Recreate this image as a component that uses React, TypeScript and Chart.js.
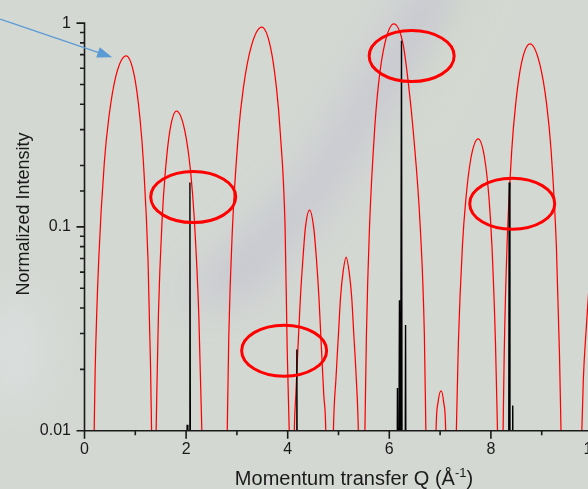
import React, { useEffect, useRef } from "react";
import { Chart, registerables } from "chart.js";

Chart.register(...registerables);

// Red interference curve: Q values and normalized intensity (null = gap between lobes)
const curveQ: number[] = [
  0.15, 0.19, 0.21, 0.28, 0.39, 0.48, 0.62, 0.82, 0.98, 1.09, 1.16, 1.25, 1.30, 1.32, 1.36, 1.365,
  1.37, 1.41, 1.455, 1.53, 1.59, 1.68, 1.81, 1.975, 2.09, 2.16, 2.25, 2.31, 2.35, 2.355,
  2.77, 2.81, 2.84, 2.91, 3.03, 3.126, 3.28, 3.49, 3.66, 3.78, 3.855, 3.95, 3.99, 4.03, 4.07, 4.075,
  4.10, 4.13, 4.16, 4.20, 4.25, 4.30, 4.35, 4.43, 4.51, 4.565, 4.615, 4.665, 4.71, 4.75, 4.78, 4.785,
  4.87, 4.90, 4.95, 5.00, 5.04, 5.09, 5.15, 5.21, 5.26, 5.30, 5.35, 5.39, 5.42, 5.425,
  5.48, 5.52, 5.55, 5.61, 5.71, 5.785, 5.91, 6.09, 6.27, 6.38, 6.47, 6.61, 6.69, 6.72, 6.76, 6.765,
  6.89, 6.92, 6.96, 7.02, 7.07, 7.11, 7.14, 7.145,
  7.28, 7.32, 7.36, 7.44, 7.505, 7.605, 7.75, 7.878, 7.966, 8.02, 8.09, 8.13, 8.16, 8.165,
  8.20, 8.24, 8.262, 8.316, 8.41, 8.485, 8.60, 8.77, 8.96, 9.10, 9.185, 9.29, 9.35, 9.38, 9.42, 9.425,
  9.75, 9.79, 9.82, 9.87, 9.95, 10.1,
];
const curveI: (number | null)[] = [
  0.003, 0.01, 0.0198, 0.069, 0.207, 0.345, 0.552, 0.69, 0.552, 0.345, 0.207, 0.069, 0.0207, 0.01, 0.003, null,
  0.003, 0.01, 0.037, 0.111, 0.185, 0.296, 0.37, 0.296, 0.185, 0.111, 0.037, 0.01, 0.003, null,
  0.003, 0.01, 0.0287, 0.0956, 0.287, 0.478, 0.765, 0.956, 0.765, 0.478, 0.287, 0.0956, 0.025, 0.01, 0.003, null,
  0.003, 0.01, 0.015, 0.025, 0.045, 0.07, 0.1, 0.121, 0.1, 0.07, 0.045, 0.025, 0.015, 0.01, 0.003, null,
  0.003, 0.01, 0.018, 0.03, 0.045, 0.06, 0.071, 0.06, 0.045, 0.03, 0.018, 0.01, 0.003, null,
  0.003, 0.01, 0.0297, 0.099, 0.297, 0.495, 0.79, 0.99, 0.79, 0.495, 0.297, 0.099, 0.0297, 0.01, 0.003, null,
  0.003, 0.01, 0.0138, 0.0157, 0.0138, 0.01, 0.003, null,
  0.003, 0.01, 0.027, 0.081, 0.135, 0.216, 0.27, 0.216, 0.135, 0.081, 0.027, 0.01, 0.003, null,
  0.003, 0.01, 0.0237, 0.079, 0.237, 0.395, 0.632, 0.79, 0.632, 0.395, 0.237, 0.079, 0.0237, 0.01, 0.003, null,
  0.003, 0.01, 0.018, 0.03, 0.06, 0.2,
];

// Black Bragg peaks: positions and heights
const peakQ: number[] = [2.02, 2.075, 4.18, 6.16, 6.20, 6.24, 6.32, 8.36, 8.43];
const peakI: number[] = [0.0107, 0.165, 0.025, 0.0162, 0.0437, 0.82, 0.033, 0.165, 0.0133];

// Axis ticks
const xTickLabels: string[] = ["0", "2", "4", "6", "8", "10"];
const yTickLabels: string[] = ["0.01", "0.1", "1"];

// Annotation marks (data coordinates)
const circleQ: number[] = [2.14, 3.93, 6.44, 8.42];
const circleI: number[] = [0.14, 0.0247, 0.689, 0.13];
const arrowQ: number[] = [-1.66, 0.545];
const arrowI: number[] = [1.046, 0.68];

const FONT = "'Liberation Sans', Arial, sans-serif";
const INK = "#1a1a1a";

const isPow10 = (v: number) => {
  const l = Math.log10(v);
  return Math.abs(l - Math.round(l)) < 1e-6;
};

const CANVAS_W = 620;
const CANVAS_H = 489;

const backgroundPlugin = {
  id: "photoBackground",
  beforeDraw(chart: any) {
    const ctx = chart.ctx as CanvasRenderingContext2D;
    ctx.save();
    ctx.fillStyle = "#d4d8d3";
    ctx.fillRect(0, 0, chart.width, chart.height);
    ctx.filter = "blur(20px)";
    // lavender diagonal streak
    ctx.fillStyle = "rgba(175,165,205,0.32)";
    ctx.beginPath();
    ctx.moveTo(420, -20);
    ctx.lineTo(470, -20);
    ctx.lineTo(330, 200);
    ctx.lineTo(250, 300);
    ctx.lineTo(180, 300);
    ctx.lineTo(300, 180);
    ctx.closePath();
    ctx.fill();
    // faint green/yellow fringe
    ctx.fillStyle = "rgba(215,230,190,0.35)";
    ctx.beginPath();
    ctx.moveTo(475, -20);
    ctx.lineTo(500, -20);
    ctx.lineTo(430, 140);
    ctx.lineTo(410, 140);
    ctx.closePath();
    ctx.fill();
    // lighter lower-left patch
    ctx.fillStyle = "rgba(226,230,234,0.45)";
    ctx.beginPath();
    ctx.ellipse(15, 350, 30, 60, 0, 0, Math.PI * 2);
    ctx.fill();
    ctx.restore();
  },
};

const axesPlugin = {
  id: "axesTicks",
  afterDatasetsDraw(chart: any) {
    const ctx = chart.ctx as CanvasRenderingContext2D;
    const { left, right, top, bottom } = chart.chartArea;
    const xs = chart.scales.x;
    const ys = chart.scales.y;
    ctx.save();
    ctx.strokeStyle = INK;
    ctx.lineWidth = 1.6;
    ctx.beginPath();
    ctx.moveTo(left, top - 0.8);
    ctx.lineTo(left, bottom + 0.8);
    ctx.moveTo(left - 0.8, bottom);
    ctx.lineTo(right, bottom);
    for (const t of ys.ticks) {
      const py = ys.getPixelForValue(t.value);
      const len = isPow10(t.value) ? 8 : 4.5;
      ctx.moveTo(left - len, py);
      ctx.lineTo(left, py);
    }
    for (const t of xs.ticks) {
      const px = xs.getPixelForValue(t.value);
      const len = Math.round(t.value) % 2 === 0 ? 8 : 4.5;
      ctx.moveTo(px, bottom);
      ctx.lineTo(px, bottom + len);
    }
    ctx.stroke();

    // axis titles
    ctx.fillStyle = INK;
    ctx.textBaseline = "alphabetic";
    ctx.font = `20px ${FONT}`;
    const main = "Momentum transfer Q (Å";
    const sup = "-1";
    const close = ")";
    const wMain = ctx.measureText(main).width;
    ctx.font = `13px ${FONT}`;
    const wSup = ctx.measureText(sup).width;
    ctx.font = `20px ${FONT}`;
    const wClose = ctx.measureText(close).width;
    const total = wMain + wSup + wClose;
    const cx = 354;
    const x0 = cx - total / 2;
    const base = 485;
    ctx.textAlign = "left";
    ctx.fillText(main, x0, base);
    ctx.font = `13px ${FONT}`;
    ctx.fillText(sup, x0 + wMain, base - 8);
    ctx.font = `20px ${FONT}`;
    ctx.fillText(close, x0 + wMain + wSup, base);

    ctx.save();
    ctx.translate(29, 214);
    ctx.rotate(-Math.PI / 2);
    ctx.font = `18px ${FONT}`;
    ctx.textAlign = "center";
    ctx.fillText("Normalized Intensity", 0, 0);
    ctx.restore();
    ctx.restore();
  },
};

const annotationPlugin = {
  id: "marks",
  afterDraw(chart: any) {
    const ctx = chart.ctx as CanvasRenderingContext2D;
    const xs = chart.scales.x;
    const ys = chart.scales.y;
    ctx.save();
    ctx.strokeStyle = "#ff0000";
    ctx.lineWidth = 3;
    for (let i = 0; i < circleQ.length; i++) {
      const cx = xs.getPixelForValue(circleQ[i]);
      const cy = ys.getPixelForValue(circleI[i]);
      ctx.beginPath();
      ctx.ellipse(cx, cy, 42.5, 25.5, 0, 0, Math.PI * 2);
      ctx.stroke();
    }
    // arrow
    const x1 = xs.getPixelForValue(arrowQ[0]);
    const y1 = ys.getPixelForValue(arrowI[0]);
    const x2 = xs.getPixelForValue(arrowQ[1]);
    const y2 = ys.getPixelForValue(arrowI[1]);
    const ang = Math.atan2(y2 - y1, x2 - x1);
    const headLen = 15;
    const headHalf = 5.5;
    const bx = x2 - headLen * Math.cos(ang);
    const by = y2 - headLen * Math.sin(ang);
    ctx.strokeStyle = "#5b9bd5";
    ctx.fillStyle = "#5b9bd5";
    ctx.lineWidth = 1.2;
    ctx.beginPath();
    ctx.moveTo(x1, y1);
    ctx.lineTo(bx, by);
    ctx.stroke();
    ctx.beginPath();
    ctx.moveTo(x2, y2);
    ctx.lineTo(bx + headHalf * Math.sin(ang), by - headHalf * Math.cos(ang));
    ctx.lineTo(bx - headHalf * Math.sin(ang), by + headHalf * Math.cos(ang));
    ctx.closePath();
    ctx.fill();
    ctx.restore();
  },
};

export default function App() {
  const ref = useRef<HTMLCanvasElement | null>(null);

  useEffect(() => {
    if (!ref.current) return;
    const curveData = curveQ.map((q, i) => ({ x: q, y: curveI[i] }));
    const half = 0.015;
    const peakData: { x: number; y: number }[] = [];
    peakQ.forEach((q, i) => {
      peakData.push({ x: q - half, y: 0.001 });
      peakData.push({ x: q, y: peakI[i] });
      peakData.push({ x: q + half, y: 0.001 });
    });

    const chart = new Chart(ref.current, {
      type: "line",
      data: {
        datasets: [
          {
            label: "Bragg peaks",
            data: peakData,
            borderColor: "#000000",
            borderWidth: 1.4,
            pointRadius: 0,
            tension: 0,
          },
          {
            label: "Interference",
            data: curveData as any,
            borderColor: "#ff0000",
            borderWidth: 1.25,
            pointRadius: 0,
            cubicInterpolationMode: "monotone",
            spanGaps: false,
          },
        ],
      },
      options: {
        animation: false,
        responsive: false,
        events: [],
        layout: { padding: { left: 0, top: 19, right: CANVAS_W - 592.5, bottom: 0 } },
        plugins: { legend: { display: false }, tooltip: { enabled: false } },
        scales: {
          x: {
            type: "linear",
            min: 0,
            max: 10,
            grid: { display: false, drawTicks: false },
            border: { display: false },
            afterFit: (s: any) => {
              s.height = CANVAS_H - 430.7;
            },
            ticks: {
              stepSize: 1,
              autoSkip: false,
              maxRotation: 0,
              padding: 9,
              color: INK,
              font: { family: FONT, size: 16 },
              callback: (v: any) => {
                const n = Number(v);
                return n % 2 === 0 ? xTickLabels[n / 2] ?? "" : "";
              },
            },
          },
          y: {
            type: "logarithmic",
            min: 0.01,
            max: 1,
            grid: { display: false, drawTicks: false },
            border: { display: false },
            afterFit: (s: any) => {
              s.width = 84.5;
            },
            ticks: {
              autoSkip: false,
              padding: 13.5,
              color: INK,
              font: { family: FONT, size: 16 },
              callback: (v: any) => {
                const n = Number(v);
                if (!isPow10(n)) return "";
                return yTickLabels[Math.round(Math.log10(n)) + 2] ?? "";
              },
            },
          },
        },
      },
      plugins: [backgroundPlugin, axesPlugin, annotationPlugin],
    });
    return () => chart.destroy();
  }, []);

  return (
    <div
      style={{
        position: "fixed",
        left: 0,
        top: 0,
        width: 588,
        height: 489,
        overflow: "hidden",
        background: "#d4d8d3",
      }}
    >
      <canvas
        ref={ref}
        width={CANVAS_W}
        height={CANVAS_H}
        style={{ width: CANVAS_W, height: CANVAS_H, display: "block" }}
      />
    </div>
  );
}
